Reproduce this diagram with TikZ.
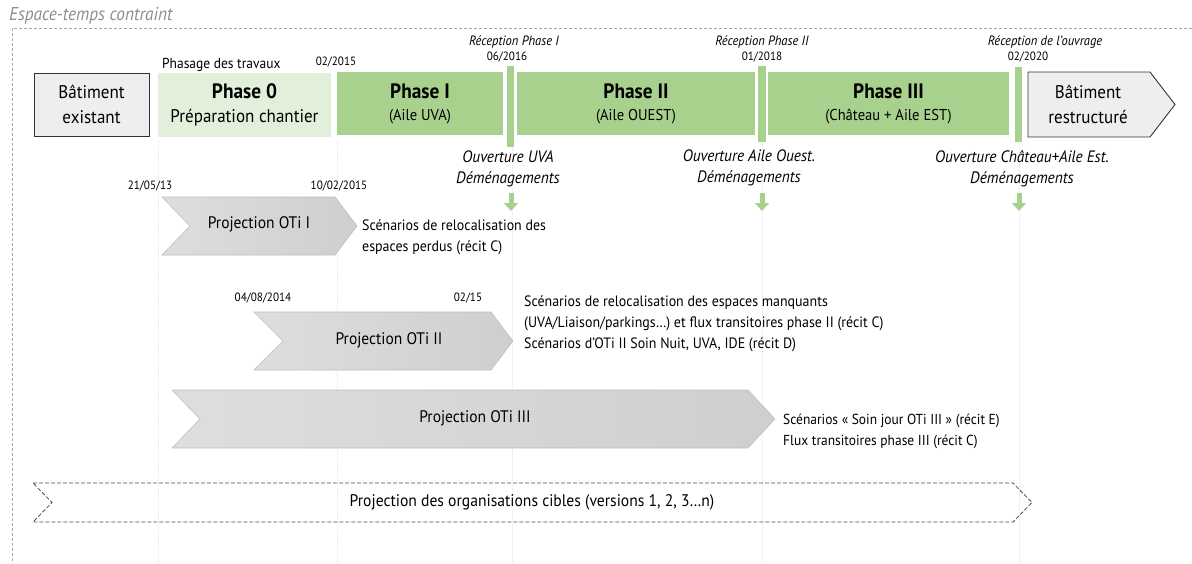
\documentclass[tikz,border=0pt]{standalone}
\usepackage{fontspec}
\setmainfont{PT Sans}[FakeStretch=0.93]
\usetikzlibrary{arrows.meta}
\definecolor{gA}{HTML}{A9D18E}
\definecolor{gB}{HTML}{E2EFDA}
\definecolor{boxg}{HTML}{EEEEEE}
\definecolor{chevb}{HTML}{B4C0D0}
\definecolor{gridc}{HTML}{EBEBEB}
\definecolor{framec}{HTML}{A6A6A6}
\definecolor{titlec}{HTML}{8C8C8C}
\begin{document}
\begin{tikzpicture}[x=1pt,y=-1pt,
  txt/.style={inner sep=0pt, align=center},
  lefttxt/.style={inner sep=0pt, align=left, anchor=west, font=\fontsize{15}{21}\selectfont},
  datetxt/.style={inner sep=0pt, font=\fontsize{12}{14}\selectfont},
  itxt/.style={inner sep=0pt, align=center, font=\fontsize{16.5}{21}\itshape},
  recep/.style={inner sep=0pt, font=\fontsize{13.5}{14}\itshape},
  greybox/.style={draw=black!80, line width=0.9pt, fill=boxg, inner sep=0pt, align=center, font=\fontsize{18.3}{25}\selectfont},
  phasebox/.style={fill=gA, inner sep=0pt, align=center, minimum height=63pt, font=\fontsize{15.7}{22}\selectfont},
  bar/.style={fill=gA, inner sep=0pt},
  chev/.style={left color=black!13, middle color=black!3, right color=black!19, shading angle=90},
  chevline/.style={draw=chevb, line width=0.6pt},
  projtxt/.style={inner sep=0pt, font=\fontsize{16.7}{20}\selectfont},
  garrow/.style={draw=gA, line width=5pt, -{Triangle[width=14pt,length=8pt]}},
  gridline/.style={draw=gridc, line width=0.6pt, dash pattern=on 2pt off 1pt},
  frame/.style={draw=framec, line width=0.8pt, dash pattern=on 3pt off 2pt}
]
\useasboundingbox (0,0) rectangle (1192,563);

% faint grid lines
\foreach \gx in {158,337,512,762,1019}{
  \draw[gridline] (\gx,140) -- (\gx,563);
}

% frame
\coordinate (frTR) at (1192,28);
\coordinate (frTL) at (12,28);
\coordinate (frBL) at (12,563);
\draw[frame] (frTR) -- (frTL) -- (frBL);
\node[anchor=west, inner sep=0pt, text=titlec, font=\fontsize{18.6}{20}\itshape] (title) at (9,16) {Espace-temps contraint};

% top row
\node[greybox, minimum width=115pt, minimum height=63pt] (exist) at (91.5,104.5) {Bâtiment\\existant};
\node[phasebox, fill=gB, minimum width=173pt, minimum height=64pt, font=\fontsize{18.3}{24}\selectfont] (ph0) at (244.5,105) {{\fontsize{20.8}{24}\bfseries Phase 0}\\Préparation chantier};
\node[phasebox, minimum width=166pt] (ph1) at (420,103.5) {{\fontsize{20.8}{22}\bfseries Phase I}\\(Aile UVA)};
\node[bar, minimum width=7pt, minimum height=81pt] (bar1) at (510.5,106.5) {};
\node[phasebox, minimum width=238pt] (ph2) at (636,103.5) {{\fontsize{20.8}{22}\bfseries Phase II}\\(Aile OUEST)};
\node[bar, minimum width=8pt, minimum height=76pt] (bar2) at (762,104) {};
\node[phasebox, minimum width=241pt] (ph3) at (888.5,103.5) {{\fontsize{20.8}{22}\bfseries Phase III}\\(Château + Aile EST)};
\node[bar, minimum width=7pt, minimum height=75pt] (bar3) at (1018.5,104.5) {};
\draw[draw=black!80, line width=0.9pt, fill=boxg] (1028,72) -- (1150,72) -- (1175,104.5) -- (1150,137) -- (1028,137) -- cycle;
\node[txt, font=\fontsize{18.3}{25}\selectfont] (rest) at (1088,104.5) {Bâtiment\\restructuré};

\node[txt, anchor=west, font=\fontsize{14.5}{15}\selectfont] (phasage) at (162,65) {Phasage des travaux};
\node[datetxt] (d0215) at (336,62) {02/2015};
\node[recep] (r1) at (514,42) {Réception Phase I};
\node[datetxt] (d0616) at (507,57) {06/2016};
\node[recep] (r2) at (762,42) {Réception Phase II};
\node[datetxt] (d0118) at (762,57) {01/2018};
\node[recep] (r3) at (1045,42) {Réception de l’ouvrage};
\node[datetxt] (d0220) at (1028,57) {02/2020};

% openings
\node[itxt] (o1) at (508,169) {Ouverture UVA\\Déménagements};
\node[itxt] (o2) at (749,168) {Ouverture Aile Ouest.\\Déménagements};
\node[itxt] (o3) at (1022,169) {Ouverture Château+Aile Est.\\Déménagements};
\coordinate (a1s) at (511,193); \coordinate (a1e) at (511,211);
\coordinate (a2s) at (762,193); \coordinate (a2e) at (762,211);
\coordinate (a3s) at (1019,193); \coordinate (a3e) at (1019,211);
\draw[garrow] (a1s) -- (a1e);
\draw[garrow] (a2s) -- (a2e);
\draw[garrow] (a3s) -- (a3e);

% Projection OTi I
\shade[chev] (162,197) -- (335,197) -- (357,226) -- (335,255) -- (162,255) -- (190,226) -- cycle;
\draw[chevline] (162,197) -- (335,197) -- (357,226) -- (335,255) -- (162,255) -- (190,226) -- cycle;
\node[projtxt] (p1) at (259,224) {Projection OTi I};
\node[datetxt] (d1a) at (150,186) {21/05/13};
\node[datetxt] (d1b) at (339,186) {10/02/2015};
\node[lefttxt] (s1) at (362,237.5) {Scénarios de relocalisation des\\espaces perdus (récit C)};

% Projection OTi II
\shade[chev] (254,312) -- (491,312) -- (513,341) -- (491,370) -- (254,370) -- (283,341) -- cycle;
\draw[chevline] (254,312) -- (491,312) -- (513,341) -- (491,370) -- (254,370) -- (283,341) -- cycle;
\node[projtxt] (p2) at (389,340) {Projection OTi II};
\node[datetxt] (d2a) at (263,298) {04/08/2014};
\node[datetxt] (d2b) at (468,298) {02/15};
\node[lefttxt] (s2) at (524,323.5) {Scénarios de relocalisation des espaces manquants\\(UVA/Liaison/parkings…) et flux transitoires phase II (récit C)\\Scénarios d’OTi II Soin Nuit, UVA, IDE (récit D)};

% Projection OTi III
\shade[chev] (172,390) -- (748,390) -- (775,419) -- (748,448) -- (172,448) -- (200,419) -- cycle;
\draw[chevline] (172,390) -- (748,390) -- (775,419) -- (748,448) -- (172,448) -- (200,419) -- cycle;
\node[projtxt] (p3) at (475,418) {Projection OTi III};
\node[lefttxt, font=\fontsize{14.5}{21}\selectfont] (s3) at (783,431.5) {Scénarios « Soin jour OTi III » (récit E)\\Flux transitoires phase III (récit C)};

% target organisations
\draw[draw=black!70, line width=0.8pt, dash pattern=on 4pt off 2pt] (33,483) -- (1013,483) -- (1032,502.5) -- (1013,522) -- (33,522) -- (52,502.5) -- cycle;
\node[txt, font=\fontsize{16.8}{20}\selectfont] (pc) at (532,502) {Projection des organisations cibles (versions 1, 2, 3…n)};
\end{tikzpicture}
\end{document}
